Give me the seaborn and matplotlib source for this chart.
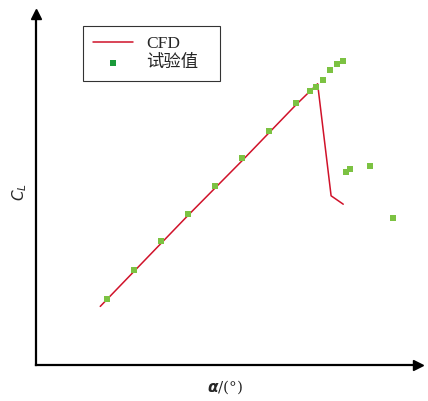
import numpy as np
import pandas as pd
import matplotlib
matplotlib.use("Agg")
import matplotlib.pyplot as plt
import seaborn as sns

# Experimental lift coefficient vs. angle of attack
alpha_exp = [-2, 0, 2, 4, 6, 8, 10, 12, 13, 13.5, 14, 14.5, 15, 15.5,
             15.7, 16, 17.5, 19.2]
cl_exp = [-0.01, 0.20, 0.41, 0.60, 0.80, 1.00, 1.19, 1.39, 1.48, 1.51,
          1.56, 1.63, 1.67, 1.69, 0.90, 0.92, 0.94, 0.57]

# CFD prediction
alpha_cfd = [-2.5, 0, 4, 8, 12, 13.6, 14.6, 15.5]
cl_cfd = [-0.06, 0.19, 0.59, 0.98, 1.38, 1.53, 0.73, 0.67]

df_exp = pd.DataFrame({"alpha": alpha_exp, "cl": cl_exp})
df_cfd = pd.DataFrame({"alpha": alpha_cfd, "cl": cl_cfd})

sns.set_style("white")
plt.rcParams["font.family"] = ["Liberation Serif", "Noto Sans CJK SC", "DejaVu Sans"]

W, H = 428, 401
x0, x1, y0, y1 = 36, 418, 365, 14
fig = plt.figure(figsize=(W / 100, H / 100), dpi=100)
ax = fig.add_axes([x0 / W, (H - y0) / H, (x1 - x0) / W, (y0 - y1) / H])

sns.lineplot(data=df_cfd, x="alpha", y="cl", ax=ax, color="#d0122a",
             linewidth=1.1, label="CFD", sort=False)
sns.scatterplot(data=df_exp, x="alpha", y="cl", ax=ax, color="#7cc242",
                marker="s", s=25, linewidth=0, label="试验值", zorder=3)

# pixel-to-data scale: 13.5 px per degree, 140 px per unit C_L
ax.set_xlim((x0 - 134) / 13.5, (x1 - 134) / 13.5)
ax.set_ylim(0.2 + (270 - y0) / 140, 0.2 + (270 - y1) / 140)
ax.set_xticks([])
ax.set_yticks([])

for side in ("top", "right"):
    ax.spines[side].set_visible(False)
for side in ("left", "bottom"):
    ax.spines[side].set_color("black")
    ax.spines[side].set_linewidth(1.6)

# Arrow heads on the axes
ax.plot(1, 0, marker=">", color="black", markersize=7, transform=ax.transAxes,
        clip_on=False)
ax.plot(0, 1, marker="^", color="black", markersize=7, transform=ax.transAxes,
        clip_on=False)

ax.set_xlabel("")
ax.set_ylabel("")
fig.text(225 / W, 1 - 387 / H, r"$\boldsymbol{\alpha}$/(°)", ha="center",
         va="center", fontsize=11, family=["DejaVu Serif"])
fig.text(20 / W, 1 - 192 / H, r"$C_L$", ha="center", va="center",
         fontsize=11, rotation=90)

# legend box spanning x = 83..220 px
lx = (83 - x0) / (x1 - x0)
lw = (220 - 83) / (x1 - x0)
ly = 1 - (26 - y1) / (y0 - y1)
leg = ax.legend(loc="upper left", bbox_to_anchor=(lx, ly - 0.2, lw, 0.2),
                mode="expand", borderaxespad=0, frameon=True, fancybox=False,
                edgecolor="black", fontsize=12.5, handlelength=2.35,
                borderpad=0.55, labelspacing=0.2, handletextpad=0.75,
                markerscale=0.8)
leg.get_frame().set_linewidth(0.8)
leg.legend_handles[1].set_facecolor("#1a9a3a")
leg.legend_handles[1].set_edgecolor("#1a9a3a")

fig.savefig("out.png", dpi=100)
